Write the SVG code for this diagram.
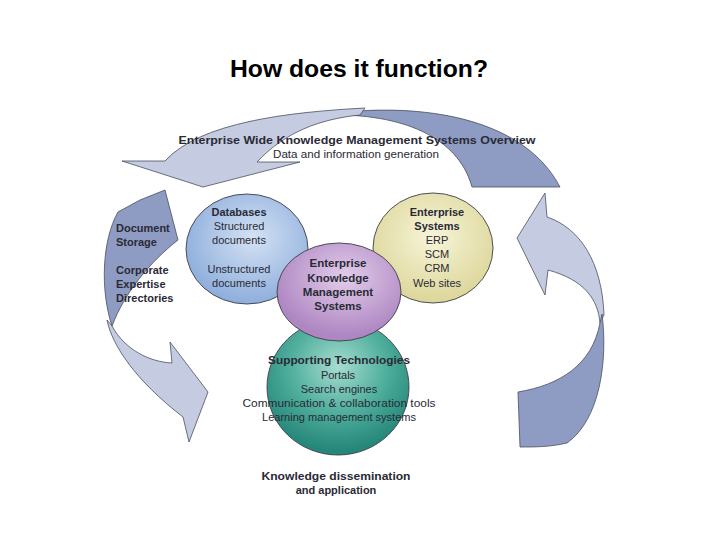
<svg xmlns="http://www.w3.org/2000/svg" width="720" height="540" viewBox="0 0 720 540">
<defs>
<radialGradient id="gBlue" cx="0.55" cy="0.4" r="0.6"><stop offset="0" stop-color="#d4e2f4"/><stop offset="1" stop-color="#8eaedc"/></radialGradient>
<radialGradient id="gYel" cx="0.5" cy="0.4" r="0.6"><stop offset="0" stop-color="#f7f5d8"/><stop offset="1" stop-color="#dcd69a"/></radialGradient>
<radialGradient id="gPur" cx="0.55" cy="0.35" r="0.6"><stop offset="0" stop-color="#e2cdea"/><stop offset="1" stop-color="#ae86c2"/></radialGradient>
<radialGradient id="gGrn" cx="0.5" cy="0.35" r="0.62"><stop offset="0" stop-color="#a6ddd0"/><stop offset="0.55" stop-color="#4fae9c"/><stop offset="1" stop-color="#25877a"/></radialGradient>
<style>
.light{fill:#c5cce1;stroke:#4a4f60;stroke-width:0.8}
.dark{fill:#8e9bc2;stroke:#4a4f60;stroke-width:0.8}
.circ{stroke:#3d3d48;stroke-width:0.9}
text{font-family:"Liberation Sans",Arial,sans-serif;fill:#2a2a36;font-size:11px}
.b{font-weight:bold}
.c{text-anchor:middle}
</style>
</defs>
<rect width="720" height="540" fill="#ffffff"/>
<text x="359" y="77" class="c b" style="font-size:24px;fill:#000" textLength="258" lengthAdjust="spacingAndGlyphs">How does it function?</text>
<g id="connectors">
<path class="dark" d="M112,326 C100,290 102,240 118,212 L140,200 L165,190 L178,240 C150,262 125,292 112,326 Z"/>
<path class="light" d="M107,320 C112,345 135,380 183,417 L189,442 L208,392 L170,342 L172,363 C150,362 125,350 112,326 Z"/>
<path class="dark" d="M345,112 C430,104 525,120 560,187 L472,187 C462,150 425,118 345,115 Z"/>
<path class="light" d="M365,108 C290,112 200,122 165,161 L122,161 L203,187 L300,162 L257,162 C285,132 320,119 360,115 Z"/>
<path class="light" d="M600,323 C598,300 585,280 548,270 L545,295 L517,238 L545,193 L547,217 C580,228 602,262 604,315 Z"/>
<path class="dark" d="M602,314 C608,360 600,420 567,443 C550,447 535,447 520,447 L518,392 C560,385 592,365 600,323 Z"/>
</g>
<g id="databases">
<ellipse class="circ" cx="247" cy="249" rx="61" ry="55" fill="url(#gBlue)"/>
<text x="239" y="216" class="c b">Databases</text>
<text x="239" y="230" class="c">Structured</text>
<text x="239" y="244" class="c">documents</text>
<text x="239" y="273" class="c">Unstructured</text>
<text x="239" y="287" class="c">documents</text>
</g>
<g id="enterprise-systems">
<ellipse class="circ" cx="433" cy="248" rx="60" ry="55" fill="url(#gYel)"/>
<text x="437" y="216" class="c b">Enterprise</text>
<text x="437" y="230" class="c b">Systems</text>
<text x="437" y="244" class="c">ERP</text>
<text x="437" y="258" class="c">SCM</text>
<text x="437" y="272" class="c">CRM</text>
<text x="437" y="287" class="c">Web sites</text>
</g>
<g id="supporting-technologies">
<ellipse class="circ" cx="338" cy="387" rx="71" ry="68" fill="url(#gGrn)"/>
<text x="339" y="364" class="c b" textLength="142" lengthAdjust="spacingAndGlyphs">Supporting Technologies</text>
<text x="338" y="379" class="c">Portals</text>
<text x="339" y="393" class="c">Search engines</text>
<text x="339" y="407" class="c" textLength="193" lengthAdjust="spacingAndGlyphs">Communication &amp; collaboration tools</text>
<text x="339" y="421" class="c" textLength="154" lengthAdjust="spacingAndGlyphs">Learning management systems</text>
</g>
<g id="ekms">
<ellipse class="circ" cx="339" cy="292" rx="62" ry="49" fill="url(#gPur)"/>
<text x="338" y="267" class="c b" style="font-size:11.5px">Enterprise</text>
<text x="338" y="282" class="c b" style="font-size:11.5px">Knowledge</text>
<text x="338" y="296" class="c b" style="font-size:11.5px">Management</text>
<text x="338" y="310" class="c b" style="font-size:11.5px">Systems</text>
</g>
<g id="overview">
<text x="357" y="144" class="c b" textLength="357" lengthAdjust="spacingAndGlyphs">Enterprise Wide Knowledge Management Systems Overview</text>
<text x="356" y="158" class="c" textLength="166" lengthAdjust="spacingAndGlyphs">Data and information generation</text>
</g>
<g id="left-labels">
<text x="116" y="232" class="b">Document</text>
<text x="116" y="246" class="b">Storage</text>
<text x="116" y="274" class="b">Corporate</text>
<text x="116" y="288" class="b">Expertise</text>
<text x="116" y="302" class="b">Directories</text>
</g>
<g id="dissemination">
<text x="336" y="480" class="c b" textLength="149" lengthAdjust="spacingAndGlyphs">Knowledge dissemination</text>
<text x="336" y="494" class="c b">and application</text>
</g>
</svg>
